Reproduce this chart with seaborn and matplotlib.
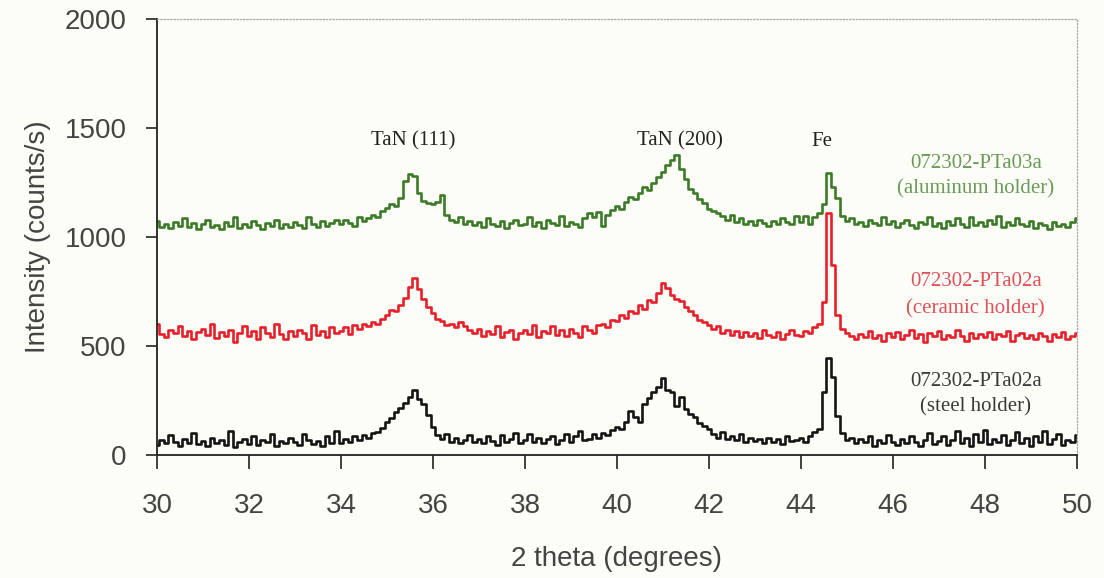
import numpy as np
import pandas as pd
import matplotlib
matplotlib.use("Agg")
import matplotlib.pyplot as plt
import seaborn as sns

# 2-theta grid: 30.0 .. 50.0 deg, step 0.1
two_theta = np.round(np.arange(300, 501) / 10.0, 1)

steel = [
    45, 70, 55, 90, 60, 40, 75, 55, 100, 50,
    65, 40, 80, 55, 70, 45, 110, 35, 60, 75,
    50, 85, 45, 70, 60, 95, 40, 65, 55, 80,
    60, 45, 95, 70, 50, 65, 40, 85, 55, 110,
    55, 75, 60, 85, 70, 90, 80, 100, 105, 125,
    150, 170, 195, 215, 240, 265, 300, 255, 235, 185,
    130, 90, 75, 95, 60, 80, 55, 70, 90, 60,
    75, 55, 85, 65, 45, 90, 60, 75, 100, 55,
    70, 95, 60, 80, 55, 75, 85, 50, 70, 95,
    60, 85, 110, 70, 75, 95, 80, 100, 90, 115,
    130, 120, 150, 200, 175, 150, 235, 260, 290, 310,
    355, 300, 290, 225, 265, 210, 190, 175, 145, 135,
    120, 95, 80, 105, 75, 85, 70, 95, 60, 80,
    65, 75, 55, 80, 60, 75, 50, 85, 65, 70,
    80, 60, 85, 105, 120, 290, 445, 360, 180, 100,
    70, 80, 55, 75, 60, 85, 40, 70, 55, 90,
    60, 45, 75, 55, 85, 60, 40, 70, 100, 50,
    65, 85, 45, 70, 110, 55, 80, 40, 95, 60,
    115, 50, 75, 60, 90, 45, 70, 105, 55, 80,
    40, 85, 60, 110, 50, 75, 95, 45, 70, 60,
    90,
]

ceramic = [
    600, 555, 540, 575, 560, 590, 545, 570, 530, 565,
    580, 550, 600, 535, 565, 545, 575, 520, 560, 590,
    545, 570, 530, 585, 560, 540, 600, 555, 530, 570,
    545, 575, 560, 530, 595, 550, 570, 540, 585, 560,
    570, 585, 555, 595, 580, 600, 590, 610, 600, 625,
    640, 665, 660, 690, 720, 770, 810, 760, 715, 680,
    650, 625, 615, 595, 600, 585, 610, 590, 575, 560,
    580, 545, 570, 555, 590, 540, 565, 575, 530, 560,
    575, 555, 595, 540, 570, 560, 590, 550, 575, 545,
    580, 560, 540, 590, 575, 560, 595, 600, 585, 620,
    615, 640, 630, 660, 650, 690, 670, 710, 700, 745,
    790, 765, 735, 715, 705, 680, 660, 640, 620, 610,
    595, 580, 590, 560, 575, 550, 570, 540, 565, 545,
    560, 535, 575, 550, 540, 565, 530, 555, 575, 550,
    545, 570, 560, 585, 600, 700, 1110, 870, 640, 580,
    560, 545, 530, 555, 540, 570, 535, 550, 525, 560,
    540, 565, 530, 550, 575, 535, 555, 520, 560, 545,
    570, 530, 550, 540, 575, 545, 525, 560, 535, 555,
    540, 565, 530, 555, 545, 570, 525, 550, 560, 535,
    550, 530, 560, 545, 525, 555, 540, 565, 530, 545,
    560,
]

aluminum = [
    1075, 1045, 1060, 1040, 1070, 1050, 1085, 1045, 1065, 1035,
    1060, 1080, 1045, 1055, 1035, 1070, 1050, 1090, 1040, 1060,
    1045, 1075, 1055, 1035, 1065, 1050, 1080, 1040, 1060, 1045,
    1070, 1055, 1040, 1090, 1060, 1045, 1075, 1050, 1065, 1080,
    1060, 1080, 1065, 1050, 1090, 1075, 1085, 1100, 1090, 1120,
    1135, 1150, 1140, 1180, 1255, 1290, 1280, 1200, 1165, 1155,
    1150, 1160, 1195, 1100, 1080, 1070, 1090, 1060, 1075, 1055,
    1070, 1045, 1085, 1060, 1050, 1075, 1040, 1065, 1080, 1055,
    1060, 1090, 1050, 1070, 1040, 1080, 1065, 1055, 1095, 1050,
    1070, 1060, 1045, 1085, 1110, 1090, 1115, 1050, 1100, 1125,
    1140, 1130, 1160, 1185, 1175, 1200, 1230, 1215, 1250, 1275,
    1300, 1330, 1355, 1375, 1310, 1265, 1220, 1200, 1175, 1155,
    1130, 1120, 1110, 1095, 1080, 1100, 1070, 1085, 1060, 1075,
    1055, 1080, 1065, 1050, 1075, 1060, 1085, 1070, 1060, 1095,
    1070, 1095, 1060, 1090, 1110, 1150, 1295, 1230, 1180, 1095,
    1075, 1085, 1060, 1070, 1050, 1080, 1065, 1055, 1090, 1060,
    1075, 1045, 1065, 1080, 1055, 1040, 1070, 1060, 1090, 1050,
    1065, 1040, 1075, 1055, 1085, 1060, 1045, 1090, 1055, 1070,
    1050, 1080, 1060, 1095, 1045, 1070, 1055, 1085, 1060, 1050,
    1075, 1040, 1065, 1055, 1035, 1070, 1050, 1060, 1045, 1070,
    1085,
]

series_names = ["steel", "ceramic", "aluminum"]
series_colors = {"steel": "#151515", "ceramic": "#e8202c", "aluminum": "#3d7a2a"}

peak_labels = ["TaN (111)", "TaN (200)", "Fe"]
peak_pos = [35.57, 41.37, 44.46]
peak_label_y = 1440

sample_labels = [
    ("072302-PTa03a", "(aluminum holder)", "#6a9a58", 1339, 1220),
    ("072302-PTa02a", "(ceramic holder)", "#e0505c", 794, 670),
    ("072302-PTa02a", "(steel holder)", "#3a3a3a", 339, 220),
]

x_ticks = list(range(30, 51, 2))
y_ticks = [0, 500, 1000, 1500, 2000]

df = pd.DataFrame({
    "two_theta": np.concatenate([two_theta] * 3),
    "intensity": np.concatenate([steel, ceramic, aluminum]),
    "sample": np.repeat(series_names, len(two_theta)),
})

sns.set_theme(style="white")
bg = "#fdfdf8"
fig = plt.figure(figsize=(11.04, 5.78), dpi=100, facecolor=bg)
ax = fig.add_axes([0.1422, 0.2128, 0.8333, 0.7543])
ax.set_facecolor(bg)

for name in series_names:
    sub = df[df["sample"] == name]
    sns.lineplot(data=sub, x="two_theta", y="intensity", color=series_colors[name],
                 linewidth=1.9, estimator=None, ax=ax, legend=False,
                 drawstyle="steps-mid")

ax.set_xlim(30, 50)
ax.set_ylim(0, 2000)
ax.set_xticks(x_ticks)
ax.set_yticks(y_ticks)

tick_font = ["Liberation Sans", "DejaVu Sans"]
ax.set_xticklabels([str(t) for t in x_ticks], family=tick_font, fontsize=20, color="#444444")
ax.set_yticklabels([str(t) for t in y_ticks], family=tick_font, fontsize=20, color="#444444")
ax.tick_params(axis="x", direction="out", length=10, width=1.2, color="#222222", pad=17, bottom=True)
ax.tick_params(axis="y", direction="out", length=8, width=1.2, color="#222222", pad=14, left=True)

ax.set_xlabel("2 theta (degrees)", family=tick_font, fontsize=20, color="#444444", labelpad=20)
ax.set_ylabel("Intensity (counts/s)", family=tick_font, fontsize=20, color="#444444", labelpad=10)

for s in ["left", "bottom"]:
    ax.spines[s].set_color("#222222")
    ax.spines[s].set_linewidth(1.3)
for s in ["top", "right"]:
    ax.spines[s].set_color("#a8a8a8")
    ax.spines[s].set_linewidth(0.9)
    ax.spines[s].set_linestyle(":")

serif = ["Liberation Serif", "DejaVu Serif"]
for lab, xp in zip(peak_labels, peak_pos):
    ax.text(xp, peak_label_y, lab, ha="center", va="center", family=serif,
            fontsize=15, color="#222222")

for l1, l2, c, y1, y2 in sample_labels:
    ax.text(47.8, y1, l1, ha="center", va="center", family=serif, fontsize=15, color=c)
    ax.text(47.8, y2, l2, ha="center", va="center", family=serif, fontsize=15, color=c)

fig.savefig("out.png", dpi=100, facecolor=bg)
